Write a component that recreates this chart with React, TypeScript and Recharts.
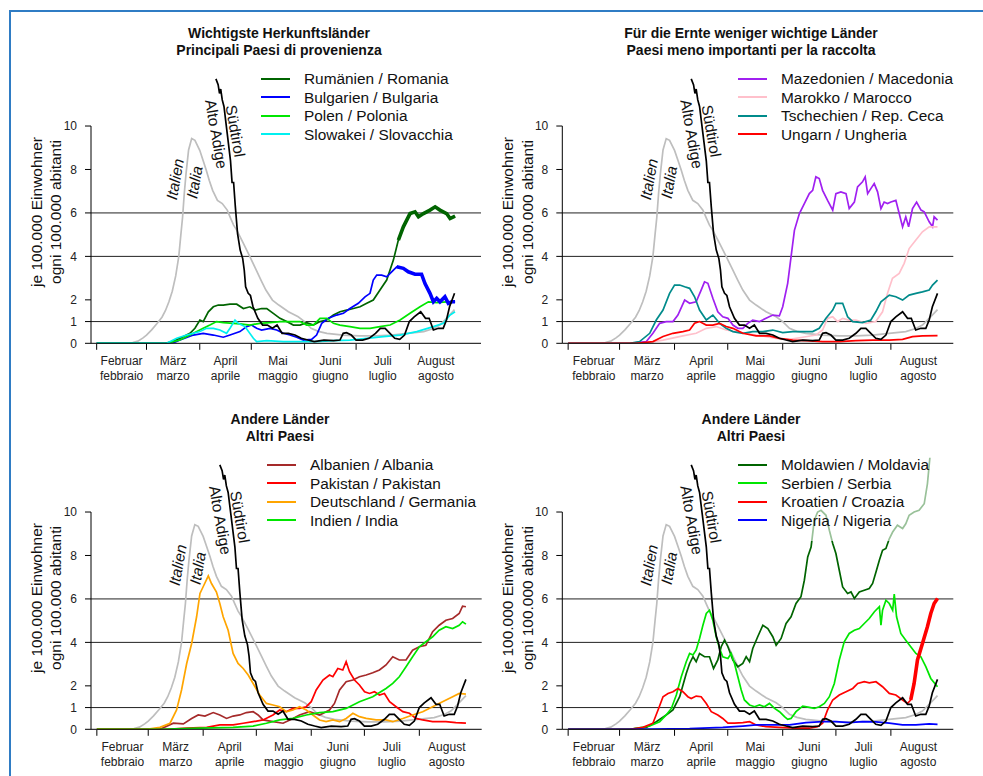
import React from 'react';
import { LineChart, Line, XAxis, YAxis, ReferenceLine, ReferenceDot, Legend } from 'recharts';

const FONT = '"Liberation Sans", Arial, Helvetica, sans-serif';
type Pt = [number, number];

// x values: days since 1 Feb 2020
const monthStarts = [0, 29, 60, 90, 121, 151, 182];
const monthMids = [14.5, 44.5, 75, 105.5, 136, 166.5, 197.5];
const monthDe = ['Februar', 'März', 'April', 'Mai', 'Juni', 'Juli', 'August'];
const monthIt = ['febbraio', 'marzo', 'aprile', 'maggio', 'giugno', 'luglio', 'agosto'];
const yTicks = [0, 1, 2, 4, 6, 8, 10];
const gridYs = [1, 4, 6];

const italy: Pt[] = [[0,0],[18,0],[21,0.03],[24,0.1],[27,0.25],[29,0.38],[32,0.62],[35,0.9],[38,1.2],[40,1.5],[42,1.9],[44,2.4],[46,3.1],[47.8,4.0],[49,5.0],[50,5.8],[51,6.9],[52,7.8],[53.5,8.9],[55.3,9.42],[57.2,9.34],[60,8.88],[62,8.4],[63.8,7.96],[65.5,7.5],[67.5,7.04],[70.3,6.58],[73.1,6.43],[76,6.13],[78,5.75],[79.7,5.44],[81.6,5.2],[83.5,4.9],[85.4,4.6],[89.1,4.0],[92.9,3.37],[95.7,2.9],[98.5,2.45],[102.3,1.99],[106,1.76],[111.6,1.45],[117.3,1.22],[121,1.0],[124.8,0.69],[129,0.55],[134,0.46],[143.5,0.38],[153,0.34],[162.3,0.34],[171.7,0.38],[181,0.46],[190.4,0.54],[196,0.68],[199.8,0.84],[203.6,1.15],[208.3,1.55]];
const suedtirol: Pt[] = [[69.4,12.17],[70.7,11.9],[71.5,11.5],[72.2,11.7],[73.1,11.2],[74.1,10.9],[76,9.65],[77.9,8.4],[78.8,7.4],[79.7,7.4],[80.7,6.3],[82,5.05],[83.5,4.3],[85,3.9],[85.9,3.37],[86.7,2.6],[88.2,2.3],[89.5,2.2],[91,1.68],[93.8,1.15],[96.6,0.84],[99.4,0.84],[102.3,0.69],[105,0.84],[107.9,0.46],[111.6,0.46],[115.4,0.38],[119.1,0.23],[122.9,0.15],[126.6,0.08],[132.3,0.15],[137.9,0.12],[141.6,0.15],[143.5,0.46],[145.4,0.49],[148.2,0.38],[151,0.15],[154.8,0.15],[158.5,0.23],[162.3,0.46],[165.1,0.69],[167.9,0.69],[170.7,0.46],[173.5,0.23],[176.4,0.18],[179.2,0.38],[182,1.0],[184.8,1.22],[188.6,1.45],[191.4,1.15],[193.5,1.15],[196,0.61],[198.9,0.69],[201.7,0.69],[203.6,1.07],[205.4,1.68],[208.3,2.3]];

const romania: Pt[] = [[0,0],[40,0],[44,0.08],[48.5,0.23],[54.3,0.46],[57.2,0.69],[60.1,1.07],[62,1.0],[65,1.45],[67.9,1.68],[70.8,1.76],[73.7,1.76],[77.6,1.8],[81.5,1.8],[85.4,1.6],[89.2,1.68],[92.2,1.53],[96,1.6],[99,1.6],[102.8,1.38],[106.7,1.15],[110.6,1.0],[114.5,0.84],[118.4,0.84],[122.2,0.95],[126.1,0.84],[130,1.0],[133.9,1.07],[137.8,1.3],[141.6,1.45],[145.5,1.53],[149.4,1.6],[153.3,1.68],[157.2,1.84],[161,1.99],[164.9,2.45],[168.8,2.91],[172.7,3.83],[175.6,4.75],[178.5,5.36],[182.4,5.97],[185.3,6.05],[187.3,5.82],[190.2,5.97],[194,6.13],[197,6.28],[199.8,6.13],[203.7,5.97],[205.7,5.74],[208.6,5.85]];
const bulgaria: Pt[] = [[0,0],[44,0],[48.5,0.15],[56.3,0.38],[62,0.46],[67.9,0.38],[73.7,0.28],[77.6,0.38],[83.4,0.54],[87.3,0.77],[90.2,0.84],[93.1,0.69],[96,0.61],[100.9,0.69],[104.8,0.61],[108.7,0.46],[112.5,0.38],[116.4,0.28],[120.3,0.15],[125.1,0.18],[128,0.38],[131,0.92],[134.8,1.15],[139.7,1.3],[143.6,1.38],[147.4,1.6],[152.3,1.84],[156.2,2.14],[159.1,2.3],[161,2.91],[163,3.14],[165.9,3.14],[168.8,3.06],[171.7,3.29],[174.6,3.52],[178.5,3.45],[181.4,3.29],[185.3,3.18],[189.1,3.18],[191.1,2.75],[194,2.3],[196,1.91],[197.9,2.07],[199.8,1.91],[202.7,2.14],[204.7,1.84],[206.6,1.91],[208.6,1.91]];
const polen: Pt[] = [[0,0],[40.7,0],[48.5,0.15],[56.3,0.46],[62,0.69],[65.9,0.84],[69.8,1.0],[73.7,0.95],[79.5,0.92],[83.4,0.89],[89.2,0.84],[95,0.92],[100.9,0.95],[106.7,1.0],[112.5,1.0],[118.4,1.0],[122.2,0.84],[126.1,0.84],[130,1.15],[133.9,1.15],[137.8,0.92],[141.6,0.84],[147.4,0.77],[153.3,0.69],[159.1,0.69],[164.9,0.77],[170.8,0.84],[176.6,1.07],[182.4,1.38],[188.2,1.68],[193.1,1.91],[197.9,1.87],[203.7,1.91],[208.6,1.91]];
const slowakei: Pt[] = [[0,0],[40.7,0],[46.6,0.23],[52.4,0.38],[60.1,0.54],[64,0.69],[67.9,0.69],[71.7,0.61],[75.6,0.46],[77.6,0.69],[80.5,1.07],[82.4,0.92],[86.3,0.77],[91.2,0.23],[93.1,0.08],[99,0.12],[108.7,0.08],[118.4,0.08],[128,0.08],[137.8,0.12],[147.4,0.15],[157.2,0.23],[166.9,0.31],[176.6,0.38],[186.3,0.54],[196,0.77],[201.8,0.92],[205.7,1.3],[208.6,1.45]];

const mazedonien: Pt[] = [[0,0],[34.7,0],[44.1,0.08],[47.8,0.46],[51.6,0.92],[55.3,1.0],[59.1,1.0],[61.9,1.3],[65.7,1.99],[68.5,1.84],[72.2,1.91],[75,2.45],[76.9,2.83],[78.8,2.76],[81.6,2.07],[84.4,1.45],[87.2,1.22],[90.1,1.15],[92.9,0.84],[95.7,0.69],[98.5,0.69],[101.3,0.92],[104.1,1.07],[107.9,1.0],[111.6,1.15],[115.4,1.3],[119.1,1.26],[121,1.68],[123.8,2.76],[125.7,3.98],[127.6,5.2],[130.4,5.97],[133.2,6.43],[136,6.89],[137.9,7.04],[139.7,7.66],[141.6,7.58],[143.5,7.04],[146.3,6.58],[149.2,6.13],[151,6.89],[153.8,6.97],[156.7,6.89],[158.5,6.2],[161.4,6.5],[163.2,7.2],[166,7.43],[167.5,7.66],[168.9,6.89],[170.7,7.12],[172.6,7.35],[174.5,6.97],[176.4,6.2],[178.2,6.5],[180.1,6.43],[182,6.5],[184.8,6.58],[186.7,5.97],[188.6,5.36],[190.4,5.82],[192,5.36],[194.2,6.2],[196.5,6.5],[199,6.13],[200.8,6.05],[203.6,5.59],[205.5,5.36],[206.4,5.82],[208.3,5.67]];
const marokko: Pt[] = [[0,0],[42.2,0],[53.5,0.15],[64.7,0.34],[72.2,0.46],[77.9,0.69],[83.5,0.77],[89.1,0.61],[94.7,0.54],[100.4,0.46],[106,0.38],[111.6,0.31],[117.3,0.23],[124.8,0.18],[132.3,0.28],[139.8,0.38],[143.5,0.61],[146.3,1.15],[149.2,1.22],[152,1.0],[154.8,1.15],[158.5,1.07],[162.3,1.07],[167.9,0.92],[173.5,1.0],[177.3,1.45],[180.1,2.3],[182.9,2.99],[186.7,3.22],[189.5,3.68],[192.3,4.36],[196.1,4.75],[199.8,5.13],[203.6,5.36],[208.3,5.36]];
const tschechien: Pt[] = [[0,0],[34.7,0],[40.3,0.08],[46,0.46],[49.7,1.07],[53.5,1.53],[57.2,2.3],[60,2.68],[62.9,2.68],[65.7,2.6],[68.5,2.53],[71.3,2.14],[74.1,1.53],[77.9,1.07],[81.6,1.3],[85.4,0.92],[89.1,0.69],[92.9,0.54],[98.5,0.46],[104.1,0.54],[109.8,0.54],[115.4,0.61],[121,0.49],[126.6,0.54],[132.3,0.54],[137.9,0.54],[141.6,0.69],[145.4,1.15],[149.2,1.53],[151,1.84],[154.8,1.84],[157.6,1.22],[160.5,1.0],[166,0.95],[170.7,1.07],[173.5,1.45],[176.4,1.91],[181.1,2.22],[184.8,2.14],[188.6,1.99],[192.3,2.22],[196.1,2.3],[199.8,2.37],[203.6,2.45],[205.5,2.68],[208.3,2.91]];
const ungarn: Pt[] = [[0,0],[38.5,0],[47.8,0.08],[53.5,0.31],[59.1,0.46],[64.7,0.54],[68.5,0.61],[71.3,0.92],[74.1,1.0],[77.9,0.84],[81.6,0.84],[85.4,0.92],[89.1,0.77],[92.9,0.69],[98.5,0.46],[106,0.34],[113.5,0.34],[119.1,0.23],[126.6,0.15],[134.1,0.12],[143.5,0.08],[152.9,0.08],[162.3,0.12],[171.7,0.15],[181,0.15],[188.6,0.18],[194.2,0.31],[199.8,0.34],[208.3,0.35]];

const albanien: Pt[] = [[0,0],[35.6,0],[43.2,0.28],[48.8,0.25],[53.5,0.5],[57.2,0.66],[61,0.61],[65.7,0.77],[69.4,0.66],[73.2,0.5],[76.9,0.61],[80.7,0.66],[84.4,0.77],[88.2,0.81],[91,0.66],[93.8,0.43],[99.4,0.35],[105.1,0.28],[110.7,0.5],[114.4,0.66],[120,0.81],[125.7,0.66],[131.3,0.89],[134.1,1.19],[137,1.81],[140.7,2.19],[144.5,2.27],[148.2,2.42],[152,2.5],[155.7,2.6],[159.5,2.73],[163.2,2.96],[167,3.34],[170.7,3.19],[174.5,3.19],[178.2,3.64],[182,3.8],[185.7,3.87],[189.5,4.49],[193.2,4.79],[197,5.02],[200.8,5.1],[204.5,5.33],[206.4,5.67],[208.3,5.64]];
const pakistan: Pt[] = [[0,0],[39.4,0],[50.7,0.05],[62,0.09],[69.4,0.2],[76.9,0.2],[82.6,0.28],[88.2,0.35],[93.8,0.43],[99.4,0.66],[103.2,0.89],[106.9,0.81],[110.7,0.96],[114.4,0.96],[118.2,1.04],[121,1.27],[123.8,1.81],[127.6,2.27],[131.3,2.5],[133.2,2.42],[136,2.8],[138.8,2.73],[140.7,3.11],[142.6,2.65],[145.4,2.27],[148.2,2.04],[151.1,1.73],[153.9,1.65],[156.7,1.73],[159.5,1.58],[162.3,1.65],[165.2,1.27],[168.9,1.04],[172.7,0.81],[176.4,0.74],[180.1,0.5],[183.9,0.43],[189.5,0.35],[197,0.35],[202.6,0.31],[208.3,0.28]];
const deutschland: Pt[] = [[0,0],[28.1,0],[35.6,0.09],[41.3,0.28],[45,0.89],[47.8,1.81],[50.7,3.03],[53.5,3.95],[56.3,5.18],[58.2,6.25],[60.4,6.63],[62.9,7.06],[64.7,6.71],[67.5,6.32],[69.4,5.79],[71.3,5.18],[74.1,4.56],[76.9,3.49],[79.7,3.03],[82.6,2.8],[85.4,2.5],[88.2,2.11],[91.9,1.58],[95.7,1.19],[99.4,1.12],[103.2,1.04],[106.9,0.81],[110.7,0.89],[114.4,1.04],[118.2,0.89],[121.9,0.66],[125.7,0.43],[129.4,0.35],[133.2,0.43],[137,0.35],[140.7,0.5],[144.5,0.74],[148.2,0.58],[152,0.5],[157.6,0.43],[163.2,0.43],[167,0.35],[172.7,0.5],[178.2,0.66],[183.9,0.81],[189.5,1.04],[195.1,1.27],[200.8,1.5],[204.5,1.65],[208.3,1.62]];
const indien: Pt[] = [[0,0],[35.6,0],[58.2,0.05],[76.9,0.09],[88.2,0.15],[95.7,0.28],[103.2,0.43],[110.7,0.5],[118.2,0.66],[125.7,0.77],[133.2,0.81],[140.7,0.96],[148.2,1.27],[155.7,1.5],[163.2,1.88],[167,2.11],[170.7,2.42],[174.5,2.88],[178.2,3.34],[182,3.8],[185.7,4.03],[189.5,4.26],[193.2,4.56],[197,4.72],[200.8,4.64],[204.5,4.79],[206.4,4.95],[208.3,4.84]];

const moldawien: Pt[] = [[0,0],[34.7,0],[44.1,0.09],[49.7,0.35],[55.3,0.66],[59.1,0.89],[62.9,1.5],[66.6,2.57],[68.5,3.03],[70.4,3.34],[72.2,3.11],[74.1,3.49],[76.9,3.34],[79.7,3.34],[82,2.8],[84.4,3.19],[86.3,3.8],[88.2,4.1],[90.1,3.8],[92.9,3.19],[95.7,2.88],[98.5,3.03],[100.4,3.34],[102.3,3.11],[104.1,3.72],[106.9,4.26],[109.8,4.79],[112.6,4.64],[115.4,4.26],[117.3,3.87],[120.1,4.18],[122.9,4.87],[125.7,5.18],[128.5,5.79],[131.3,6.1],[133.2,6.86],[135.1,7.93],[137,8.39],[138.8,9.62],[140.7,10.0],[142.6,10.08],[145.4,9.85],[147.3,9.16],[149.2,8.55],[151,8.09],[152.9,7.32],[154.8,6.55],[157.6,6.25],[159.5,6.32],[161.4,6.02],[164.2,6.32],[167,6.4],[169.8,6.48],[171.7,6.71],[173.6,7.24],[175.5,7.78],[177.3,8.24],[179.2,8.32],[181.1,8.77],[183,9.08],[185.7,9.39],[188.6,9.24],[190.4,9.46],[192.3,9.85],[195.1,10.0],[197.9,10.08],[200.8,10.38],[202.6,11.3],[204,12.5],[205.5,14.0]];
const serbien: Pt[] = [[0,0],[34.7,0],[46,0.15],[51.6,0.35],[55.3,0.66],[58.2,0.96],[61,1.58],[63.8,2.42],[66.6,3.11],[68.5,3.49],[70.4,3.42],[72.2,3.65],[74.1,4.18],[76,4.79],[77.9,5.33],[79.7,5.48],[81.6,5.02],[83.5,4.26],[85.4,3.72],[87.2,3.34],[90.1,3.26],[91.9,3.49],[93.8,3.03],[95.7,2.42],[97.6,1.81],[99.4,1.35],[102.3,1.12],[105.1,1.04],[107.9,1.12],[110.7,1.04],[113.5,1.19],[116.4,0.96],[119.2,0.81],[122,0.58],[123.8,0.46],[125.7,0.5],[128.5,0.81],[132.3,1.07],[136,1.01],[138.8,0.96],[141.6,1.04],[144.5,1.19],[147.3,1.5],[150.1,2.11],[152.9,3.19],[155.7,4.03],[158.5,4.41],[161.4,4.56],[164.2,4.64],[167,4.87],[169.8,5.1],[172.7,5.41],[175.5,5.64],[176.4,4.79],[177.3,5.48],[179.2,5.94],[181.1,5.79],[183,5.48],[183.9,6.22],[185.2,5.18],[187.6,4.41],[190.4,4.1],[193.2,3.8],[196.1,3.49],[198.9,3.34],[201.7,2.88],[204.5,2.34],[208.3,1.96]];
const kroatien: Pt[] = [[0,0],[34.7,0],[42.2,0.09],[47.8,0.28],[50.7,0.89],[53.5,1.5],[56.3,1.65],[59.1,1.73],[61.9,1.88],[64.7,1.73],[67.5,1.5],[69.4,1.42],[72.2,1.53],[75,1.5],[77.9,1.19],[80.7,0.81],[84.4,0.66],[87.2,0.5],[90.1,0.28],[93.8,0.28],[98.5,0.31],[102.3,0.35],[106,0.2],[111.6,0.12],[119.1,0.09],[128.5,0.05],[136,0.05],[140.7,0.12],[143.5,0.28],[146.3,0.89],[149.2,1.35],[152.9,1.58],[156.7,1.73],[160.5,1.88],[163.3,2.11],[167,2.19],[169.8,2.14],[173.6,2.19],[177.3,1.96],[181.1,1.65],[184.8,1.58],[188.6,1.35],[191.4,1.19],[193.2,1.35],[195.1,2.11],[197,3.19],[199.8,3.95],[202.6,4.72],[204.5,5.33],[206.4,5.79],[208.3,6.02]];
const nigeria: Pt[] = [[0,0],[34.7,0],[68.5,0.03],[87.2,0.09],[98.5,0.15],[106,0.2],[115.4,0.2],[124.8,0.2],[134.1,0.31],[143.5,0.35],[151,0.35],[158.5,0.31],[166,0.35],[173.5,0.34],[181.1,0.28],[188.6,0.2],[196.1,0.2],[203.6,0.25],[208.3,0.23]];

type Series = { name: string; color: string; pts: Pt[]; thickFrom?: number };
type Annot = { text: string; d: number; v: number; angle: number; italic: boolean };

const annotations: Annot[] = [
  { text: 'Italien', d: 45.6, v: 7.56, angle: -80, italic: true },
  { text: 'Italia', d: 56.9, v: 7.42, angle: -80, italic: true },
  { text: 'Alto Adige', d: 69.7, v: 9.63, angle: 80, italic: false },
  { text: 'Südtirol', d: 80.8, v: 9.77, angle: 80, italic: false },
];

const X_MIN = -3.3;

type PanelCfg = {
  left: number; top: number; xMax: number; yAxisWidth: number; marginRight: number;
  titleX: number; title: [string, string]; legendLeft: number; legendWidth: number;
  ylabX: [number, number]; series: Series[];
};

const panels: PanelCfg[] = [
  {
    left: 0, top: 0, xMax: 223.7, yAxisWidth: 91, marginRight: 9, titleX: 279,
    title: ['Wichtigste Herkunftsländer', 'Principali Paesi di provenienza'],
    legendLeft: 253, legendWidth: 205, ylabX: [36.7, 55.5],
    series: [
      { name: 'Rumänien / Romania', color: '#006400', pts: romania, thickFrom: 175 },
      { name: 'Bulgarien / Bulgaria', color: '#0000ff', pts: bulgaria, thickFrom: 174 },
      { name: 'Polen / Polonia', color: '#00e600', pts: polen },
      { name: 'Slowakei / Slovacchia', color: '#00f0f0', pts: slowakei },
    ],
  },
  {
    left: 490, top: 0, xMax: 217.2, yAxisWidth: 72.3, marginRight: 26.7, titleX: 751,
    title: ['Für die Ernte weniger wichtige Länder', 'Paesi meno importanti per la raccolta'],
    legendLeft: 240, legendWidth: 228, ylabX: [18.3, 37.5],
    series: [
      { name: 'Mazedonien / Macedonia', color: '#a020f0', pts: mazedonien },
      { name: 'Marokko / Marocco', color: '#ffc0cb', pts: marokko },
      { name: 'Tschechien / Rep. Ceca', color: '#008b8b', pts: tschechien },
      { name: 'Ungarn / Ungheria', color: '#ff0000', pts: ungarn },
    ],
  },
  {
    left: 0, top: 386, xMax: 217.2, yAxisWidth: 91, marginRight: 8.3, titleX: 280,
    title: ['Andere Länder', 'Altri Paesi'],
    legendLeft: 259, legendWidth: 222, ylabX: [36.7, 55.5],
    series: [
      { name: 'Albanien / Albania', color: '#a52a2a', pts: albanien },
      { name: 'Pakistan / Pakistan', color: '#ff0000', pts: pakistan },
      { name: 'Deutschland / Germania', color: '#ffa500', pts: deutschland },
      { name: 'Indien / India', color: '#00e600', pts: indien },
    ],
  },
  {
    left: 490, top: 386, xMax: 217.2, yAxisWidth: 72.3, marginRight: 26.7, titleX: 751,
    title: ['Andere Länder', 'Altri Paesi'],
    legendLeft: 240, legendWidth: 215, ylabX: [18.3, 37.5],
    series: [
      { name: 'Moldawien / Moldavia', color: '#006400', pts: moldawien },
      { name: 'Serbien / Serbia', color: '#00e600', pts: serbien },
      { name: 'Kroatien / Croazia', color: '#ff0000', pts: kroatien, thickFrom: 193 },
      { name: 'Nigeria / Nigeria', color: '#0000ff', pts: nigeria },
    ],
  },
];

const toData = (pts: Pt[]) => pts.map(([d, v]) => ({ d, v }));
const xTicks = [...monthStarts, ...monthMids].sort((a, b) => a - b);

const MonthTick = (props: any) => {
  const { x, y, payload } = props;
  const v = payload.value;
  const si = monthStarts.indexOf(v);
  if (si >= 0) {
    return <line x1={x} x2={x} y1={y + 0.5} y2={y + 6.5} stroke="#000" strokeWidth={1} />;
  }
  const mi = monthMids.indexOf(v);
  if (mi < 0) return null;
  return (
    <text textAnchor="middle" fontSize={12} fill="#222" fontFamily={FONT}>
      <tspan x={x} y={y + 21.5}>{monthDe[mi]}</tspan>
      <tspan x={x} y={y + 36.5}>{monthIt[mi]}</tspan>
    </text>
  );
};

const LegendBox = ({ series }: { series: Series[] }) => (
  <div style={{ position: 'relative', width: '100%', height: '100%', fontFamily: FONT }}>
    {series.map((s, i) => (
      <div key={s.name} style={{ position: 'absolute', left: 0, top: 12.5 + i * 18.5, height: 0 }}>
        <div style={{ position: 'absolute', left: 8, top: -1, width: 29, height: 2, background: s.color }} />
        <div style={{ position: 'absolute', left: 51, top: -9.5, fontSize: 15.4, lineHeight: '19px', whiteSpace: 'nowrap', color: '#111' }}>{s.name}</div>
      </div>
    ))}
  </div>
);

const Panel = ({ cfg }: { cfg: PanelCfg }) => {
  const lw = 1.7;
  return (
    <div style={{ position: 'absolute', left: cfg.left, top: cfg.top, width: 490, height: 390 }}>
      <div style={{ position: 'absolute', left: cfg.titleX - cfg.left, top: 24.5, transform: 'translateX(-50%)', textAlign: 'center', fontWeight: 'bold', fontSize: 14, lineHeight: '17px', whiteSpace: 'nowrap', color: '#111', fontFamily: FONT, zIndex: 2 }}>
        <div>{cfg.title[0]}</div>
        <div>{cfg.title[1]}</div>
      </div>
      {['je 100.000 Einwohner', 'ogni 100.000 abitanti'].map((t, i) => (
        <div key={t} style={{ position: 'absolute', left: cfg.ylabX[i], top: 212, transform: 'translate(-50%, -50%) rotate(-90deg)', fontSize: 15.5, lineHeight: '18px', whiteSpace: 'nowrap', color: '#111', fontFamily: FONT, zIndex: 2 }}>{t}</div>
      ))}
      <LineChart width={490} height={390} margin={{ top: 71.7, right: cfg.marginRight, bottom: 0, left: 0 }}>
        <XAxis type="number" dataKey="d" domain={[X_MIN, cfg.xMax]} allowDataOverflow ticks={xTicks} interval={0}
          tick={<MonthTick />} tickLine={false} tickSize={0} tickMargin={0} axisLine={{ stroke: '#000', strokeWidth: 1 }} height={46.7} />
        <YAxis type="number" domain={[0, 12.5]} allowDataOverflow ticks={yTicks} interval={0} width={cfg.yAxisWidth}
          axisLine={false} tickLine={{ stroke: '#000' }} tickSize={6} tickMargin={8}
          tick={{ fontSize: 12, fill: '#222', fontFamily: FONT }} />
        {gridYs.map((y) => <ReferenceLine key={y} y={y} stroke="#222" strokeWidth={1} />)}
        <ReferenceLine segment={[{ x: X_MIN, y: 0 }, { x: X_MIN, y: 10 }]} stroke="#000" strokeWidth={1} ifOverflow="visible" />
        <Line data={toData(italy)} dataKey="v" stroke="#bebebe" strokeWidth={lw} dot={false} isAnimationActive={false} type="linear" />
        {cfg.series.map((s) => (
          <Line key={s.name} data={toData(s.pts)} dataKey="v" name={s.name} stroke={s.color} strokeWidth={lw} dot={false} isAnimationActive={false} type="linear" />
        ))}
        {cfg.series.filter((s) => s.thickFrom !== undefined).map((s) => (
          <Line key={s.name + '-thick'} data={toData(s.pts.filter(([d]) => d >= (s.thickFrom as number)))} dataKey="v" stroke={s.color} strokeWidth={3.6} dot={false} isAnimationActive={false} type="linear" legendType="none" />
        ))}
        <Line data={toData(suedtirol)} dataKey="v" stroke="#000" strokeWidth={lw} dot={false} isAnimationActive={false} type="linear" />
        {annotations.map((a) => (
          <ReferenceDot key={a.text} x={a.d} y={a.v} r={1} ifOverflow="visible"
            shape={(p: any) => (
              <text x={p.cx} y={p.cy} transform={`rotate(${a.angle} ${p.cx} ${p.cy})`} textAnchor="middle" dominantBaseline="central"
                fontSize={15.5} fontStyle={a.italic ? 'italic' : 'normal'} fill="#111" fontFamily={FONT}>{a.text}</text>
            )} />
        ))}
        <Legend layout="horizontal" verticalAlign="middle" align="center"
          wrapperStyle={{ left: cfg.legendLeft, top: 66, width: cfg.legendWidth, height: 89, background: 'rgba(255,255,255,0.6)' }}
          content={() => <LegendBox series={cfg.series} />} />
      </LineChart>
    </div>
  );
};

export default function App() {
  return (
    <div style={{ position: 'fixed', left: 0, top: 0, width: 983, height: 776, overflow: 'hidden', background: '#fff', fontFamily: FONT }}>
      <div style={{ position: 'absolute', left: 9, top: 10, width: 974, height: 766, boxSizing: 'border-box', borderTop: '2px solid #2f7cc4', borderLeft: '2px solid #2f7cc4' }} />
      {panels.map((p, i) => <Panel key={i} cfg={p} />)}
    </div>
  );
}
